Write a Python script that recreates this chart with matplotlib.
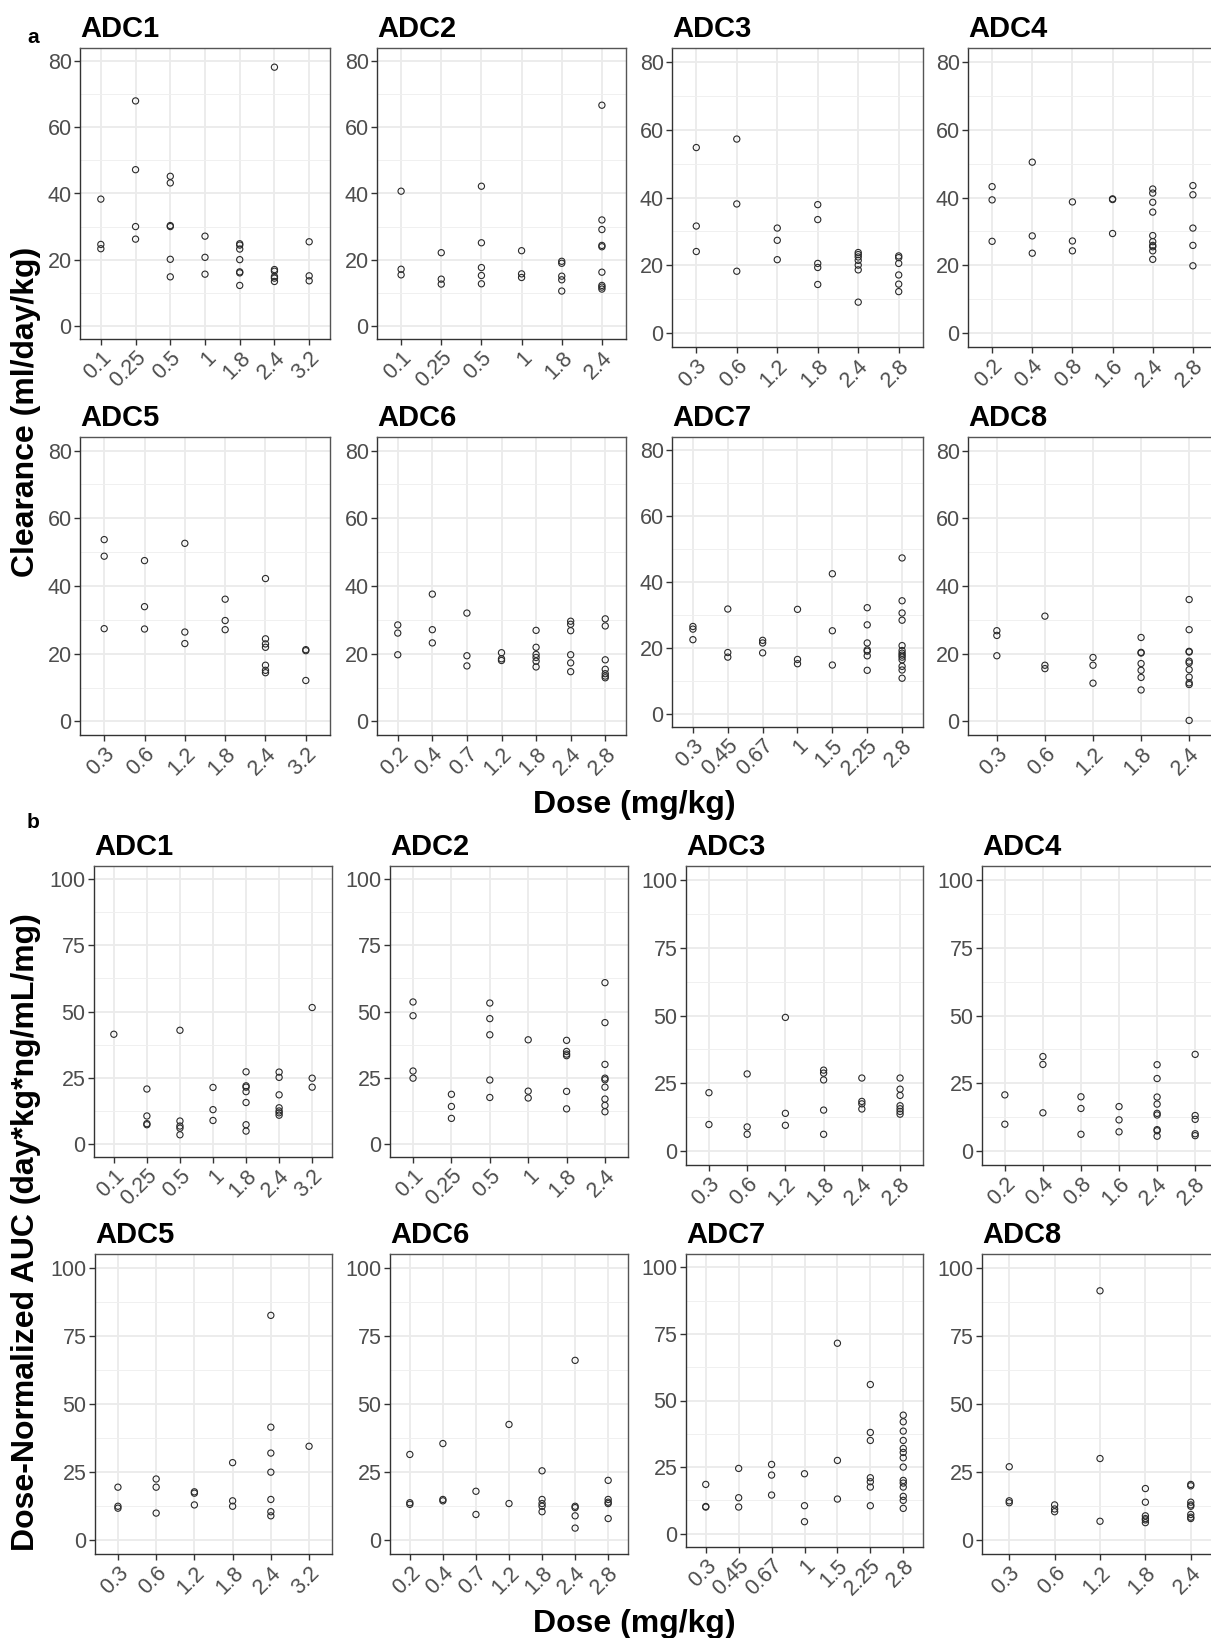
import matplotlib.pyplot as plt

plt.rcParams['font.family'] = ['Liberation Sans', 'DejaVu Sans']

W, H = 1211, 1638

# dose levels (mg/kg) per ADC
dose_adc1 = ["0.1", "0.25", "0.5", "1", "1.8", "2.4", "3.2"]
dose_adc2 = ["0.1", "0.25", "0.5", "1", "1.8", "2.4"]
dose_adc3 = ["0.3", "0.6", "1.2", "1.8", "2.4", "2.8"]
dose_adc4 = ["0.2", "0.4", "0.8", "1.6", "2.4", "2.8"]
dose_adc5 = ["0.3", "0.6", "1.2", "1.8", "2.4", "3.2"]
dose_adc6 = ["0.2", "0.4", "0.7", "1.2", "1.8", "2.4", "2.8"]
dose_adc7 = ["0.3", "0.45", "0.67", "1", "1.5", "2.25", "2.8"]
dose_adc8 = ["0.3", "0.6", "1.2", "1.8", "2.4"]

# a: clearance (ml/day/kg), one list per dose level
cl_adc1 = [[38.3, 24.6, 23.3], [68.0, 47.2, 30.0, 26.2], [45.2, 43.2, 30.3, 30.0, 20.1, 14.8],
           [27.1, 20.7, 15.6], [24.8, 24.4, 23.2, 20.0, 16.3, 16.0, 12.2],
           [78.2, 17.0, 16.5, 14.9, 14.4, 13.4], [25.4, 15.1, 13.6]]
cl_adc2 = [[40.7, 17.1, 15.4], [22.1, 14.1, 12.6], [42.2, 25.1, 17.6, 15.2, 12.7],
           [22.7, 15.7, 14.6], [19.5, 18.9, 15.0, 13.9, 10.5],
           [66.7, 32.0, 29.1, 24.3, 23.9, 16.2, 12.2, 11.7, 11.1]]
cl_adc3 = [[54.7, 31.6, 24.1], [57.2, 38.1, 18.3], [31.0, 27.4, 21.7],
           [37.9, 33.5, 20.6, 19.4, 14.4], [23.8, 23.2, 22.5, 21.5, 20.1, 18.7, 9.2],
           [22.8, 22.3, 20.6, 17.2, 14.5, 12.3]]
cl_adc4 = [[43.2, 39.3, 27.1], [50.4, 28.7, 23.6], [38.7, 27.2, 24.3], [39.6, 39.4, 29.4],
           [42.5, 41.3, 38.6, 35.7, 28.8, 27.0, 25.9, 25.5, 24.3, 21.8],
           [43.5, 40.8, 31.0, 25.9, 19.9]]
cl_adc5 = [[53.7, 48.8, 27.4], [47.5, 33.9, 27.3], [52.6, 26.4, 23.0], [36.1, 29.8, 27.1],
           [42.2, 24.4, 22.9, 21.9, 16.6, 15.1, 14.4], [21.2, 20.9, 12.1]]
cl_adc6 = [[28.5, 26.1, 19.7], [37.6, 27.1, 23.2], [32.0, 19.4, 16.4], [20.3, 18.5, 18.0],
           [26.9, 21.9, 19.8, 18.9, 17.8, 16.1], [29.6, 28.7, 26.8, 19.7, 17.3, 14.7],
           [30.3, 28.2, 18.2, 15.4, 14.1, 13.4, 12.9]]
cl_adc7 = [[26.5, 25.7, 22.5], [31.8, 18.6, 17.2], [22.3, 21.5, 18.5], [31.7, 16.5, 15.2],
           [42.5, 25.2, 14.8], [32.2, 27.0, 21.5, 19.4, 19.0, 17.6, 13.2],
           [47.3, 34.3, 30.6, 28.4, 20.7, 19.2, 18.4, 17.8, 17.2, 16.4, 14.4, 13.3, 10.8]]
cl_adc8 = [[26.8, 25.4, 19.4], [31.1, 16.6, 15.6], [18.9, 16.6, 11.3],
           [24.8, 20.4, 20.2, 17.1, 15.1, 13.0, 9.3],
           [36.0, 27.1, 20.7, 20.5, 17.8, 17.3, 15.3, 13.1, 11.4, 10.9, 0.3]]

# b: dose-normalized AUC (day*kg*ng/mL/mg)
auc_adc1 = [[41.4], [20.7, 10.5, 7.6, 7.2], [42.9, 8.6, 6.7, 5.9, 3.4], [21.3, 12.9, 8.8],
            [27.2, 21.9, 21.4, 19.7, 15.6, 7.2, 4.8], [27.1, 25.1, 18.5, 13.6, 12.4, 11.7, 10.8],
            [51.5, 24.8, 21.4]]
auc_adc2 = [[53.6, 48.4, 27.5, 24.8], [18.7, 14.1, 9.6], [53.2, 47.3, 41.2, 24.1, 17.5],
            [39.3, 19.9, 17.3], [39.1, 34.9, 33.9, 33.3, 19.8, 13.2],
            [60.9, 45.8, 30.0, 24.8, 24.2, 21.4, 16.9, 14.5, 12.1]]
auc_adc3 = [[21.6, 9.9], [28.5, 9.0, 6.3], [49.3, 14.0, 9.6], [29.9, 28.8, 26.3, 15.2, 6.3],
            [27.0, 18.4, 17.5, 15.6], [27.0, 22.9, 20.6, 16.8, 15.7, 14.7, 13.7]]
auc_adc4 = [[20.8, 10.0], [34.9, 32.0, 14.2], [20.1, 15.8, 6.3], [16.5, 11.6, 7.2],
            [31.9, 26.8, 20.0, 17.4, 14.0, 13.4, 8.0, 7.6, 5.6], [35.7, 13.2, 11.8, 6.5, 5.8]]
auc_adc5 = [[19.5, 12.5, 11.8], [22.5, 19.5, 10.0], [17.8, 17.3, 13.0], [28.5, 14.5, 12.5],
            [82.5, 41.5, 32.0, 25.0, 15.0, 10.5, 9.0], [34.5]]
auc_adc6 = [[31.5, 13.8, 13.2], [35.5, 15.0, 14.5], [18.0, 9.5], [42.5, 13.5],
            [25.5, 15.0, 13.5, 12.5, 10.5], [66.0, 12.5, 12.0, 9.0, 4.5],
            [22.0, 15.0, 14.0, 13.5, 8.0]]
auc_adc7 = [[18.5, 10.2, 10.0], [24.5, 13.5, 10.0], [26.0, 22.0, 14.5], [22.5, 10.5, 4.5],
            [71.5, 27.5, 13.0], [56.0, 38.0, 35.0, 21.0, 19.5, 17.5, 10.5],
            [44.5, 42.0, 38.5, 35.0, 32.0, 30.5, 28.5, 25.0, 20.0, 19.0, 17.5, 14.0, 12.5, 9.5]]
auc_adc8 = [[27.0, 14.5, 13.8], [13.0, 11.5, 10.5], [91.5, 30.0, 7.0],
            [19.0, 14.0, 9.0, 8.0, 7.5, 6.5],
            [20.5, 20.0, 14.0, 13.0, 12.5, 9.5, 8.5, 8.0]]

cl_ticks = [0, 20, 40, 60, 80]
cl_minor = [10, 30, 50, 70]
auc_ticks = [0, 25, 50, 75, 100]
auc_minor = [12.5, 37.5, 62.5, 87.5]

# panel boxes in pixels: left, top, right, bottom
panels = [
    ("ADC1", dose_adc1, cl_adc1, (80, 48, 330, 339), "cl"),
    ("ADC2", dose_adc2, cl_adc2, (377, 48, 626, 339), "cl"),
    ("ADC3", dose_adc3, cl_adc3, (672, 48, 923, 347), "cl"),
    ("ADC4", dose_adc4, cl_adc4, (968, 48, 1217, 347), "cl"),
    ("ADC5", dose_adc5, cl_adc5, (80, 437, 330, 735), "cl"),
    ("ADC6", dose_adc6, cl_adc6, (377, 437, 626, 735), "cl"),
    ("ADC7", dose_adc7, cl_adc7, (672, 437, 923, 727), "cl"),
    ("ADC8", dose_adc8, cl_adc8, (968, 437, 1218, 735), "cl"),
    ("ADC1", dose_adc1, auc_adc1, (94, 866, 332, 1157), "auc"),
    ("ADC2", dose_adc2, auc_adc2, (390, 866, 628, 1157), "auc"),
    ("ADC3", dose_adc3, auc_adc3, (686, 866, 923, 1165), "auc"),
    ("ADC4", dose_adc4, auc_adc4, (982, 866, 1218, 1165), "auc"),
    ("ADC5", dose_adc5, auc_adc5, (95, 1254, 332, 1554), "auc"),
    ("ADC6", dose_adc6, auc_adc6, (390, 1254, 628, 1554), "auc"),
    ("ADC7", dose_adc7, auc_adc7, (686, 1254, 923, 1547), "auc"),
    ("ADC8", dose_adc8, auc_adc8, (982, 1254, 1218, 1554), "auc"),
]

fig = plt.figure(figsize=(W / 100, H / 100), dpi=100)

for title, doses, vals, box, kind in panels:
    l, t, r, b = box
    ax = fig.add_axes([l / W, 1 - b / H, (r - l) / W, (b - t) / H])
    for i, v in enumerate(vals):
        ax.scatter([i] * len(v), v, s=20, facecolors='none', edgecolors='#2a2a2a',
                   linewidths=0.8, zorder=3)
    n = len(doses)
    ax.set_xlim(-0.6, n - 1 + 0.6)
    if kind == "cl":
        ax.set_ylim(-4, 84)
        ax.set_yticks(cl_ticks)
        ax.set_yticks(cl_minor, minor=True)
    else:
        ax.set_ylim(-5, 105)
        ax.set_yticks(auc_ticks)
        ax.set_yticks(auc_minor, minor=True)
    ax.set_xticks(range(n))
    ax.set_xticklabels(doses, rotation=45, ha='right', va='top', rotation_mode='anchor')
    ax.grid(which='major', color='#EBEBEB', lw=1.3)
    ax.grid(which='minor', axis='y', color='#F0F0F0', lw=0.7)
    ax.set_axisbelow(True)
    ax.tick_params(which='major', length=4, width=1, color='#333333',
                   labelsize=15.5, labelcolor='#4D4D4D', pad=2)
    ax.tick_params(which='minor', length=0)
    for sp in ax.spines.values():
        sp.set_color('#555555')
        sp.set_linewidth(1.0)
    ax.spines['left'].set_color('#333333')
    ax.spines['bottom'].set_color('#333333')
    ax.set_title(title, loc='left', fontsize=21, fontweight='bold', pad=8)

def ftext(x, y, s, **kw):
    fig.text(x / W, 1 - y / H, s, **kw)

ftext(27, 43, "a", fontsize=15, fontweight='bold', ha='left', va='baseline')
ftext(27, 828, "b", fontsize=15, fontweight='bold', ha='left', va='baseline')
ftext(26, 412, "Clearance (ml/day/kg)", fontsize=23, fontweight='bold',
      rotation=90, ha='center', va='center')
ftext(26, 1232, "Dose-Normalized AUC (day*kg*ng/mL/mg)", fontsize=23, fontweight='bold',
      rotation=90, ha='center', va='center')
ftext(634, 805, "Dose (mg/kg)", fontsize=23, fontweight='bold', ha='center', va='center')
ftext(634, 1624, "Dose (mg/kg)", fontsize=23, fontweight='bold', ha='center', va='center')

plt.savefig("out.png", dpi=100)
